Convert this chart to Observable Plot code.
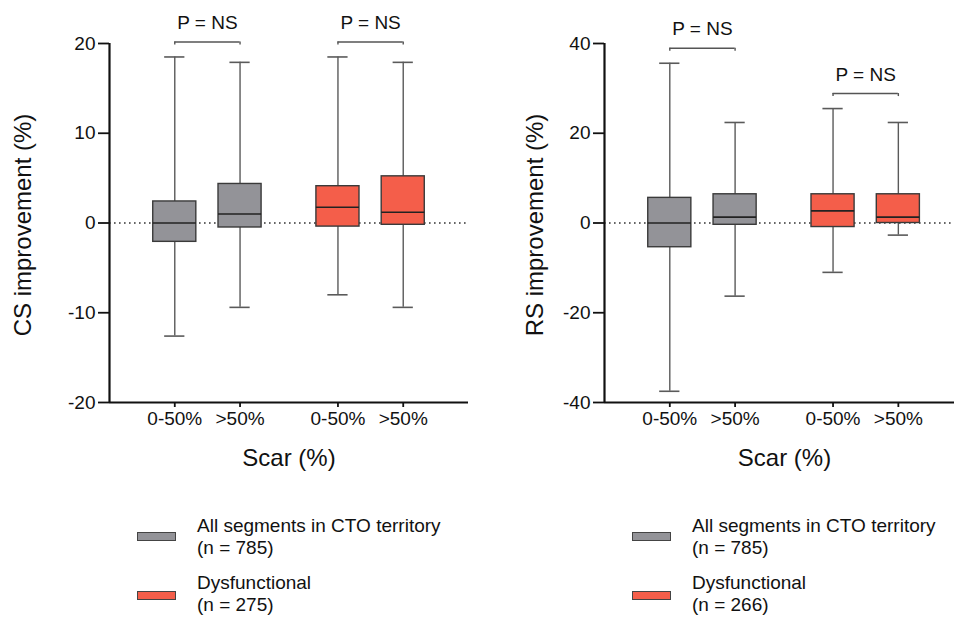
<!DOCTYPE html>
<html>
<head>
<meta charset="utf-8">
<script src="https://cdn.jsdelivr.net/npm/d3@7"></script>
<script src="https://cdn.jsdelivr.net/npm/@observablehq/plot@0.6"></script>
<style>
  html, body { margin: 0; padding: 0; background: #fff; }
  body { width: 954px; height: 617px; position: relative; overflow: hidden;
         font-family: "Liberation Sans", Arial, Helvetica, sans-serif; color: #111; }
  .panel { position: absolute; top: 0; width: 477px; height: 490px; }
  .sw { position: absolute; width: 37px; height: 7px; border: 1px solid #444; box-sizing: content-box; }
  .lt { position: absolute; font-size: 19px; line-height: 22px; white-space: nowrap; color: #111; }
</style>
</head>
<body>
<div id="left" class="panel" style="left:0"></div>
<div id="right" class="panel" style="left:477px"></div>
<div id="legend"></div>
<script>
// ---- data ----
const scarLabels = ["0-50%", ">50%"];
const groups = ["All segments in CTO territory", "Dysfunctional"];
const groupColors = ["#939398", "#F45E4A"];
const nCS = [785, 275];
const nRS = [785, 266];
const pLabels = ["P = NS", "P = NS"];

// order: [All 0-50%, All >50%, Dysf 0-50%, Dysf >50%]
const csMin = [-12.6, -9.4, -8.0, -9.4];
const csQ1  = [-2.1, -0.5, -0.4, -0.2];
const csMed = [0.0, 1.0, 1.75, 1.2];
const csQ3  = [2.4, 4.35, 4.1, 5.2];
const csMax = [18.5, 17.9, 18.5, 17.9];
const csTicks = [-20, -10, 0, 10, 20];

const rsMin = [-37.5, -16.3, -11.0, -2.7];
const rsQ1  = [-5.4, -0.4, -0.9, 0.0];
const rsMed = [0.0, 1.3, 2.7, 1.3];
const rsQ3  = [5.6, 6.4, 6.4, 6.4];
const rsMax = [35.6, 22.4, 25.5, 22.4];
const rsTicks = [-40, -20, 0, 20, 40];

const FONT = '"Liberation Sans", Arial, Helvetica, sans-serif';

function buildRows(mn, q1, md, q3, mx) {
  return mn.map((_, i) => {
    const g = Math.floor(i / 2), s = i % 2;
    return { group: groups[g], scar: scarLabels[s], pos: g * 2.5 + s + 1,
             min: mn[i], q1: q1[i], med: md[i], q3: q3[i], max: mx[i] };
  });
}

function panel({rows, ticks, ylabel, xmax, marginLeft, marginRight, ylabelDx, xlabelDx}) {
  const height = 490, marginTop = 43, marginBottom = 88;
  const ymin = ticks[0], ymax = ticks[ticks.length - 1];
  const pxPerUnit = (height - marginTop - marginBottom) / (ymax - ymin);
  const leg = 3 / pxPerUnit;
  const hw = 0.33, cw = 0.155;
  const positions = rows.map(d => d.pos);
  const brackets = [[0, 1], [2, 3]].map(([a, b], k) => ({
    x1: rows[a].pos, x2: rows[b].pos, mid: (rows[a].pos + rows[b].pos) / 2,
    top: Math.max(rows[a].max, rows[b].max), label: pLabels[k]
  }));
  const ends = brackets.flatMap(b => [{x: b.x1, top: b.top}, {x: b.x2, top: b.top}]);
  return Plot.plot({
    width: 477, height, marginLeft, marginRight, marginTop, marginBottom,
    style: {fontFamily: FONT, fontSize: "19px", color: "#111", background: "transparent", overflow: "visible"},
    x: {domain: [0, xmax]},
    y: {domain: [ymin, ymax]},
    color: {domain: groups, range: groupColors},
    marks: [
      Plot.ruleY([0], {x1: 0, x2: xmax, stroke: "#333", strokeWidth: 1.6, strokeDasharray: "1.6,3.4"}),
      Plot.ruleX(rows, {x: "pos", y1: "min", y2: "q1", stroke: "#5a5a5a", strokeWidth: 1.4}),
      Plot.ruleX(rows, {x: "pos", y1: "q3", y2: "max", stroke: "#5a5a5a", strokeWidth: 1.4}),
      Plot.ruleY(rows, {y: "max", x1: d => d.pos - cw, x2: d => d.pos + cw, stroke: "#5a5a5a", strokeWidth: 1.6}),
      Plot.ruleY(rows, {y: "min", x1: d => d.pos - cw, x2: d => d.pos + cw, stroke: "#5a5a5a", strokeWidth: 1.6}),
      Plot.rect(rows, {x1: d => d.pos - hw, x2: d => d.pos + hw, y1: "q1", y2: "q3", fill: "group", stroke: "#3a3a3a", strokeWidth: 1.4}),
      Plot.ruleY(rows, {y: "med", x1: d => d.pos - hw, x2: d => d.pos + hw, stroke: "#222", strokeWidth: 1.6}),
      // brackets
      Plot.ruleY(brackets, {y: "top", x1: "x1", x2: "x2", dy: -15, stroke: "#555", strokeWidth: 1.4}),
      Plot.ruleX(ends, {x: "x", y1: "top", y2: d => d.top - leg, dy: -15, stroke: "#555", strokeWidth: 1.4}),
      Plot.text(brackets, {x: "mid", y: "top", text: "label", dy: -34, fontSize: 19, fill: "#111"}),
      // axes
      Plot.axisY({ticks, tickFormat: d => String(d), tickSize: 11, tickPadding: 3, fontSize: 19, label: null, stroke: "#111", strokeWidth: 1.8, fill: "#111"}),
      Plot.axisX({ticks: positions, tickFormat: d => scarLabels[positions.indexOf(d) % 2], tickSize: 5, tickPadding: 4, fontSize: 19, label: null, stroke: "#111", strokeWidth: 1.8, fill: "#111"}),
      Plot.ruleX([0], {y1: ymin, y2: ymax, stroke: "#111", strokeWidth: 2.2}),
      Plot.ruleY([ymin], {x1: 0, x2: xmax, stroke: "#111", strokeWidth: 2.2}),
      // labels
      Plot.text([ylabel], {text: d => d, frameAnchor: "left", textAnchor: "middle", rotate: -90, dx: ylabelDx, dy: 2, fontSize: 24, fill: "#111"}),
      Plot.text(["Scar (%)"], {text: d => d, frameAnchor: "bottom", dy: 63, dx: xlabelDx, fontSize: 24, fill: "#111"})
    ]
  });
}

document.getElementById("left").append(panel({
  rows: buildRows(csMin, csQ1, csMed, csQ3, csMax), ticks: csTicks,
  ylabel: "CS improvement (%)", xmax: 5.5, marginLeft: 109, marginRight: 9, ylabelDx: -86, xlabelDx: 0
}));
document.getElementById("right").append(panel({
  rows: buildRows(rsMin, rsQ1, rsMed, rsQ3, rsMax), ticks: rsTicks,
  ylabel: "RS improvement (%)", xmax: 5.36, marginLeft: 127, marginRight: 0, ylabelDx: -69, xlabelDx: 5
}));

// legends
const legend = document.getElementById("legend");
function addLegend(swX, textX, ns) {
  const swY = [532, 591], txtY = [515, 572];
  groups.forEach((g, i) => {
    const sw = document.createElement("div");
    sw.className = "sw";
    sw.style.left = swX + "px"; sw.style.top = swY[i] + "px";
    sw.style.background = groupColors[i];
    legend.append(sw);
    const t = document.createElement("div");
    t.className = "lt";
    t.style.left = textX + "px"; t.style.top = txtY[i] + "px";
    t.innerHTML = g + "<br>(n = " + ns[i] + ")";
    legend.append(t);
  });
}
addLegend(137, 197, nCS);
addLegend(632, 692, nRS);
</script>
</body>
</html>
